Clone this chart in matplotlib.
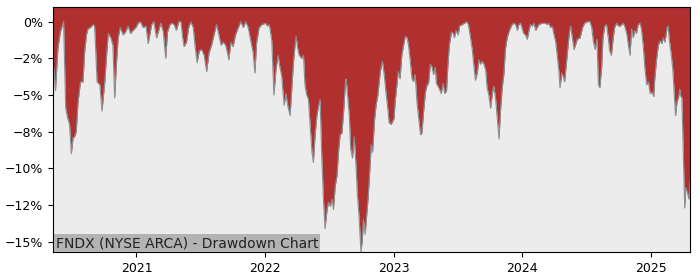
import matplotlib
matplotlib.use('Agg')
import matplotlib.pyplot as plt
import matplotlib.dates as mdates
import matplotlib.ticker as mticker
import pandas as pd

title = 'FNDX (NYSE ARCA) - Drawdown Chart'

# drawdown in percent
dates = [
    '2020-05-09', '2020-05-16', '2020-05-23', '2020-05-30', '2020-06-05', '2020-06-08', '2020-06-14', '2020-06-20',
    '2020-06-25', '2020-06-30', '2020-07-05', '2020-07-09', '2020-07-14', '2020-07-19', '2020-07-26', '2020-08-02',
    '2020-08-07', '2020-08-12', '2020-08-16', '2020-08-23', '2020-08-31', '2020-09-04', '2020-09-07', '2020-09-11',
    '2020-09-19', '2020-09-25', '2020-10-03', '2020-10-09', '2020-10-13', '2020-10-20', '2020-10-26', '2020-10-31',
    '2020-11-05', '2020-11-10', '2020-11-16', '2020-11-24', '2020-12-01', '2020-12-08', '2020-12-15', '2020-12-22',
    '2020-12-30', '2021-01-06', '2021-01-12', '2021-01-20', '2021-01-28', '2021-02-03', '2021-02-13', '2021-02-19',
    '2021-02-27', '2021-03-05', '2021-03-11', '2021-03-18', '2021-03-25', '2021-03-30', '2021-04-06', '2021-04-12',
    '2021-04-18', '2021-04-24', '2021-05-01', '2021-05-07', '2021-05-12', '2021-05-16', '2021-05-23', '2021-05-29',
    '2021-06-04', '2021-06-11', '2021-06-16', '2021-06-22', '2021-06-28', '2021-07-05', '2021-07-12', '2021-07-19',
    '2021-07-26', '2021-08-02', '2021-08-09', '2021-08-16', '2021-08-21', '2021-08-29', '2021-09-04', '2021-09-11',
    '2021-09-16', '2021-09-20', '2021-09-26', '2021-10-02', '2021-10-09', '2021-10-17', '2021-10-24', '2021-10-31',
    '2021-11-07', '2021-11-14', '2021-11-22', '2021-11-28', '2021-12-03', '2021-12-08', '2021-12-15', '2021-12-23',
    '2022-01-03', '2022-01-07', '2022-01-13', '2022-01-20', '2022-01-26', '2022-02-01', '2022-02-07', '2022-02-12',
    '2022-02-17', '2022-02-24', '2022-03-01', '2022-03-06', '2022-03-13', '2022-03-18', '2022-03-22', '2022-03-27',
    '2022-03-30', '2022-04-04', '2022-04-08', '2022-04-15', '2022-04-20', '2022-04-24', '2022-04-29', '2022-05-04',
    '2022-05-09', '2022-05-14', '2022-05-18', '2022-05-23', '2022-05-28', '2022-06-02', '2022-06-06', '2022-06-11',
    '2022-06-16', '2022-06-20', '2022-06-26', '2022-06-30', '2022-07-05', '2022-07-10', '2022-07-14', '2022-07-19',
    '2022-07-24', '2022-07-29', '2022-08-02', '2022-08-07', '2022-08-12', '2022-08-17', '2022-08-19', '2022-08-23',
    '2022-08-28', '2022-09-01', '2022-09-06', '2022-09-11', '2022-09-16', '2022-09-20', '2022-09-25', '2022-09-30',
    '2022-10-04', '2022-10-07', '2022-10-12', '2022-10-17', '2022-10-21', '2022-10-26', '2022-10-29', '2022-11-02',
    '2022-11-08', '2022-11-12', '2022-11-17', '2022-11-24', '2022-11-30', '2022-12-05', '2022-12-10', '2022-12-16',
    '2022-12-19', '2022-12-25', '2023-01-02', '2023-01-05', '2023-01-10', '2023-01-14', '2023-01-19', '2023-01-24',
    '2023-01-29', '2023-02-03', '2023-02-08', '2023-02-12', '2023-02-17', '2023-02-22', '2023-02-26', '2023-03-03',
    '2023-03-08', '2023-03-13', '2023-03-18', '2023-03-22', '2023-03-27', '2023-04-01', '2023-04-06', '2023-04-10',
    '2023-04-15', '2023-04-20', '2023-04-24', '2023-04-29', '2023-05-02', '2023-05-09', '2023-05-16', '2023-05-21',
    '2023-05-26', '2023-05-31', '2023-06-04', '2023-06-08', '2023-06-14', '2023-06-19', '2023-06-22', '2023-06-27',
    '2023-07-03', '2023-07-07', '2023-07-14', '2023-07-21', '2023-07-27', '2023-08-01', '2023-08-07', '2023-08-12',
    '2023-08-16', '2023-08-21', '2023-08-26', '2023-08-31', '2023-09-04', '2023-09-09', '2023-09-14', '2023-09-19',
    '2023-09-23', '2023-09-28', '2023-10-03', '2023-10-08', '2023-10-12', '2023-10-17', '2023-10-22', '2023-10-27',
    '2023-10-31', '2023-11-05', '2023-11-10', '2023-11-14', '2023-11-19', '2023-11-24', '2023-11-29', '2023-12-03',
    '2023-12-08', '2023-12-13', '2023-12-18', '2023-12-22', '2023-12-27', '2024-01-02', '2024-01-05', '2024-01-10',
    '2024-01-15', '2024-01-20', '2024-01-24', '2024-01-29', '2024-02-03', '2024-02-08', '2024-02-12', '2024-02-17',
    '2024-02-26', '2024-03-07', '2024-03-12', '2024-03-16', '2024-03-21', '2024-03-26', '2024-03-31', '2024-04-05',
    '2024-04-10', '2024-04-14', '2024-04-17', '2024-04-22', '2024-04-27', '2024-04-30', '2024-05-05', '2024-05-10',
    '2024-05-14', '2024-05-17', '2024-05-22', '2024-05-27', '2024-06-01', '2024-06-05', '2024-06-13', '2024-06-20',
    '2024-06-26', '2024-07-04', '2024-07-11', '2024-07-16', '2024-07-21', '2024-07-26', '2024-07-31', '2024-08-04',
    '2024-08-08', '2024-08-13', '2024-08-17', '2024-08-22', '2024-08-27', '2024-09-01', '2024-09-05', '2024-09-10',
    '2024-09-15', '2024-09-19', '2024-09-25', '2024-09-30', '2024-10-05', '2024-10-09', '2024-10-14', '2024-10-19',
    '2024-10-24', '2024-10-28', '2024-11-02', '2024-11-06', '2024-11-11', '2024-11-15', '2024-11-20', '2024-11-25',
    '2024-11-30', '2024-12-04', '2024-12-09', '2024-12-14', '2024-12-19', '2024-12-24', '2024-12-29', '2025-01-03',
    '2025-01-08', '2025-01-11', '2025-01-16', '2025-01-21', '2025-01-26', '2025-01-31', '2025-02-04', '2025-02-09',
    '2025-02-15', '2025-02-18', '2025-02-21', '2025-02-26', '2025-03-03', '2025-03-07', '2025-03-11', '2025-03-15',
    '2025-03-20', '2025-03-23', '2025-03-26', '2025-03-29', '2025-04-01', '2025-04-04', '2025-04-06', '2025-04-09',
    '2025-04-14', '2025-04-18', '2025-04-21',
]
drawdown = [
    -2.6, -4.7, -1.8, -0.7, -0.2, 0.0, -5.9, -6.6,
    -7.0, -9.0, -7.9, -7.85, -7.5, -5.5, -4.1, -4.1,
    -2.0, -0.9, -0.5, -0.4, -0.2, -0.3, -1.8, -4.1,
    -4.3, -6.1, -4.1, -2.0, -0.8, -1.1, -1.6, -5.2,
    -2.9, -1.1, -0.4, -0.9, -0.7, -0.3, -0.8, -0.6,
    -0.4, -0.1, 0.0, -0.4, -0.3, -1.5, -0.2, 0.0,
    -1.1, -0.6, -0.1, -0.7, -2.5, -0.7, -0.2, -0.1,
    -0.2, -0.6, 0.0, 0.0, -1.1, -1.7, -1.4, -0.4,
    0.0, -0.4, -1.6, -2.8, -2.0, -1.9, -2.3, -3.4,
    -2.1, -1.6, -0.9, -0.2, -0.7, -1.6, -1.4, -1.6,
    -2.1, -2.6, -1.4, -1.7, -0.9, -0.4, 0.0, -0.4,
    0.0, -0.4, -1.4, -2.1, -3.5, -1.4, -0.4, -0.2,
    -0.1, -0.3, -0.2, -1.3, -5.0, -3.2, -2.3, -3.1,
    -3.7, -5.7, -4.9, -5.7, -6.4, -4.5, -2.9, -1.6,
    -1.0, -1.9, -2.3, -2.5, -2.3, -4.3, -5.0, -5.3,
    -7.1, -8.9, -9.6, -7.7, -6.4, -5.7, -5.3, -9.3,
    -12.3, -14.1, -12.8, -12.3, -12.6, -12.1, -12.8, -11.2,
    -10.5, -8.7, -7.7, -7.6, -6.1, -4.1, -3.9, -5.0,
    -6.4, -8.7, -9.3, -7.85, -9.8, -11.8, -13.4, -15.7,
    -14.9, -13.5, -14.5, -13.0, -11.8, -9.8, -8.4, -8.9,
    -6.6, -5.7, -5.0, -3.4, -2.7, -3.6, -4.8, -6.1,
    -6.9, -7.0, -6.6, -5.5, -4.3, -3.4, -3.9, -2.3,
    -1.6, -1.0, -1.1, -1.6, -2.7, -3.9, -4.1, -3.6,
    -5.5, -6.6, -7.7, -7.6, -6.1, -4.8, -4.3, -4.2,
    -2.9, -3.1, -3.6, -3.1, -4.2, -4.5, -4.9, -4.2,
    -4.9, -4.7, -2.9, -1.6, -0.7, -0.8, -1.1, -0.6,
    -0.9, -0.3, -0.2, -0.1, 0.0, -0.2, -1.1, -1.9,
    -2.9, -4.0, -3.5, -2.6, -2.9, -2.7, -2.9, -3.3,
    -4.5, -5.0, -5.9, -4.9, -4.4, -5.2, -6.6, -8.0,
    -6.1, -4.5, -3.5, -1.9, -1.1, -0.7, -0.4, -0.2,
    -0.1, -0.2, -0.6, -0.2, -0.1, -0.6, -0.8, -0.9,
    -1.2, -0.6, -0.2, -0.3, -0.1, -0.6, -0.4, -0.2,
    -0.1, -0.1, -0.2, -0.1, -0.4, -0.3, -0.9, -1.4,
    -2.5, -3.4, -4.5, -3.5, -3.8, -4.1, -2.9, -1.6,
    -0.7, -0.3, -1.1, -1.9, -1.5, -1.2, -1.1, -0.4,
    -0.1, 0.0, 0.0, -0.4, -1.4, -1.9, -1.2, -4.3,
    -4.5, -3.2, -1.1, -0.3, -0.2, -1.1, -2.0, -2.3,
    -1.1, -0.4, -0.1, -0.3, -0.3, -0.2, -0.1, -0.4,
    -0.9, -1.6, -2.3, -0.5, -1.1, -0.6, -0.8, -0.2,
    -0.1, -0.5, -1.6, -3.2, -4.3, -4.1, -4.9, -4.8,
    -5.1, -3.9, -2.6, -1.6, -1.3, -1.5, -1.1, -1.4,
    -0.4, -0.3, -1.2, -2.1, -3.2, -4.8, -6.4, -5.5,
    -5.1, -4.6, -5.1, -5.2, -8.0, -10.9, -12.7, -11.3,
    -11.7, -12.1, -10.9,
]

x = pd.to_datetime(dates)
top = 1.0

fig = plt.figure(figsize=(7, 2.8), dpi=100)
ax = fig.add_axes([0.0757, 0.1, 0.91, 0.875])
ax.set_facecolor('#ececec')
ax.fill_between(x, drawdown, top, color='#b03030', lw=0)
ax.plot(x, drawdown, color='#8a9090', lw=0.8)

ax.set_xlim(x[0], x[-1])
ax.set_ylim(min(drawdown), top)
ax.yaxis.set_major_locator(mticker.MultipleLocator(2.5))
ax.yaxis.set_major_formatter(mticker.PercentFormatter(decimals=0))
ax.xaxis.set_major_locator(mdates.YearLocator())
ax.xaxis.set_major_formatter(mdates.DateFormatter('%Y'))
ax.tick_params(labelsize=9)

ax.text(0.0045, 0.008, title, transform=ax.transAxes, ha='left', va='bottom', fontsize=10,
        color='#222222', bbox=dict(boxstyle='square,pad=0.15', fc='#b3b3b3', ec='none'))

fig.savefig('out.png', dpi=100)
